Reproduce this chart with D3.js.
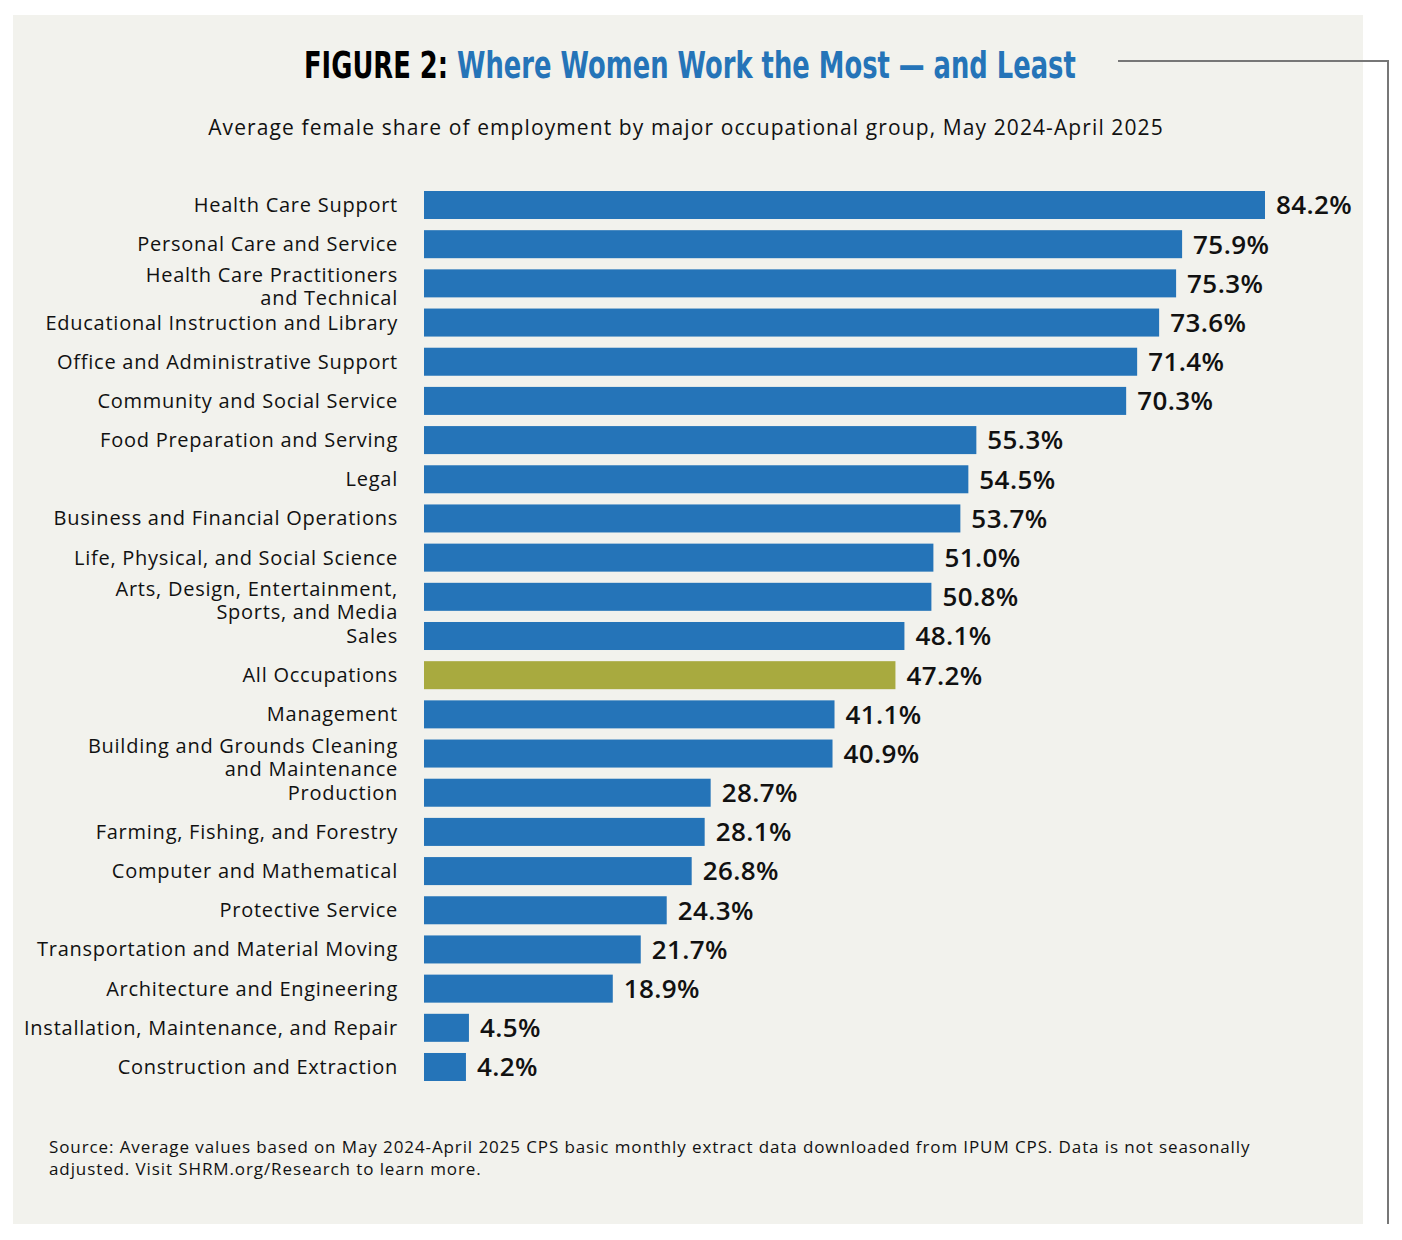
<!DOCTYPE html>
<meta charset="utf-8" />
<title>Figure 2: Where Women Work the Most and Least</title>
<style>
  body { margin: 0; background: #fff; }
  svg { display: block; }
  text { font-family: "Open Sans", Lato, sans-serif; fill: #111; }
  .title { font-family: "DejaVu Sans", sans-serif; font-weight: bold; font-size: 38px; }
  .cat { font-size: 20px; letter-spacing: 0.75px; }
  .val { font-size: 26px; font-weight: 600; letter-spacing: 0.4px; }
  .note { font-size: 17px; letter-spacing: 0.9px; }
</style>
<body>
<svg width="1402" height="1240"></svg>
<script src="https://d3js.org/d3.v7.min.js"></script>
<script>
const width = 1402, height = 1240;
const svg = d3.select("svg").attr("width", width).attr("height", height);

// data
const categories = [
  ["Health Care Support"],
  ["Personal Care and Service"],
  ["Health Care Practitioners", "and Technical"],
  ["Educational Instruction and Library"],
  ["Office and Administrative Support"],
  ["Community and Social Service"],
  ["Food Preparation and Serving"],
  ["Legal"],
  ["Business and Financial Operations"],
  ["Life, Physical, and Social Science"],
  ["Arts, Design, Entertainment,", "Sports, and Media"],
  ["Sales"],
  ["All Occupations"],
  ["Management"],
  ["Building and Grounds Cleaning", "and Maintenance"],
  ["Production"],
  ["Farming, Fishing, and Forestry"],
  ["Computer and Mathematical"],
  ["Protective Service"],
  ["Transportation and Material Moving"],
  ["Architecture and Engineering"],
  ["Installation, Maintenance, and Repair"],
  ["Construction and Extraction"]
];
const values = [84.2, 75.9, 75.3, 73.6, 71.4, 70.3, 55.3, 54.5, 53.7, 51.0, 50.8, 48.1,
  47.2, 41.1, 40.9, 28.7, 28.1, 26.8, 24.3, 21.7, 18.9, 4.5, 4.2];
const highlight = "All Occupations";

const rows = categories.map((c, i) => ({ name: c.join(" "), lines: c, value: values[i] }));

// panel and frame
svg.append("rect").attr("x", 13).attr("y", 15).attr("width", 1350).attr("height", 1209)
  .attr("fill", "#f2f2ed");
svg.append("path")
  .attr("d", "M1118,61H1388V1224")
  .attr("fill", "none").attr("stroke", "#777").attr("stroke-width", 2);

// title, squeezed to look like a condensed face
const titleG = svg.append("g");
const title = titleG.append("text").attr("class", "title").attr("x", 0).attr("y", 0);
title.append("tspan").attr("fill", "#000").text("FIGURE 2: ");
title.append("tspan").attr("fill", "#2574b8").text("Where Women Work the Most \u2014 and Least");
const tw = title.node().getComputedTextLength();
const sx = 772 / tw;
titleG.attr("transform", `translate(304,78) scale(${sx},1)`);

svg.append("text").attr("x", 686).attr("y", 135).attr("text-anchor", "middle")
  .style("font-size", "21px").style("letter-spacing", "1.1px")
  .text("Average female share of employment by major occupational group, May 2024-April 2025");

// scales
const x = d3.scaleLinear().domain([0, 84.2]).range([424, 1265]);
const y = d3.scaleBand().domain(rows.map(d => d.name)).range([191, 1081]).paddingInner(0.285).paddingOuter(0);

const g = svg.append("g");

g.selectAll("rect.bar").data(rows).join("rect")
  .attr("class", "bar")
  .attr("x", x(0))
  .attr("y", d => y(d.name))
  .attr("width", d => x(d.value) - x(0))
  .attr("height", y.bandwidth())
  .attr("fill", d => d.name === highlight ? "#a8aa3f" : "#2574b8");

g.selectAll("text.val").data(rows).join("text")
  .attr("class", "val")
  .attr("x", d => x(d.value) + 11)
  .attr("y", d => y(d.name) + y.bandwidth() / 2)
  .attr("dy", "0.36em")
  .text(d => d.value.toFixed(1) + "%");

const cat = g.selectAll("text.cat").data(rows).join("text")
  .attr("class", "cat")
  .attr("text-anchor", "end")
  .attr("x", 398)
  .attr("y", d => y(d.name) + y.bandwidth() / 2 + (d.lines.length - 1) * -8);
cat.selectAll("tspan").data(d => d.lines).join("tspan")
  .attr("x", 398)
  .attr("dy", (d, i) => i === 0 ? "0.35em" : 23)
  .text(d => d);

// source note
const note = svg.append("text").attr("class", "note").attr("x", 49).attr("y", 1153);
note.append("tspan").attr("x", 49)
  .text("Source: Average values based on May 2024-April 2025 CPS basic monthly extract data downloaded from IPUM CPS. Data is not seasonally");
note.append("tspan").attr("x", 49).attr("dy", 22)
  .text("adjusted. Visit SHRM.org/Research to learn more.");
</script>
</body>
